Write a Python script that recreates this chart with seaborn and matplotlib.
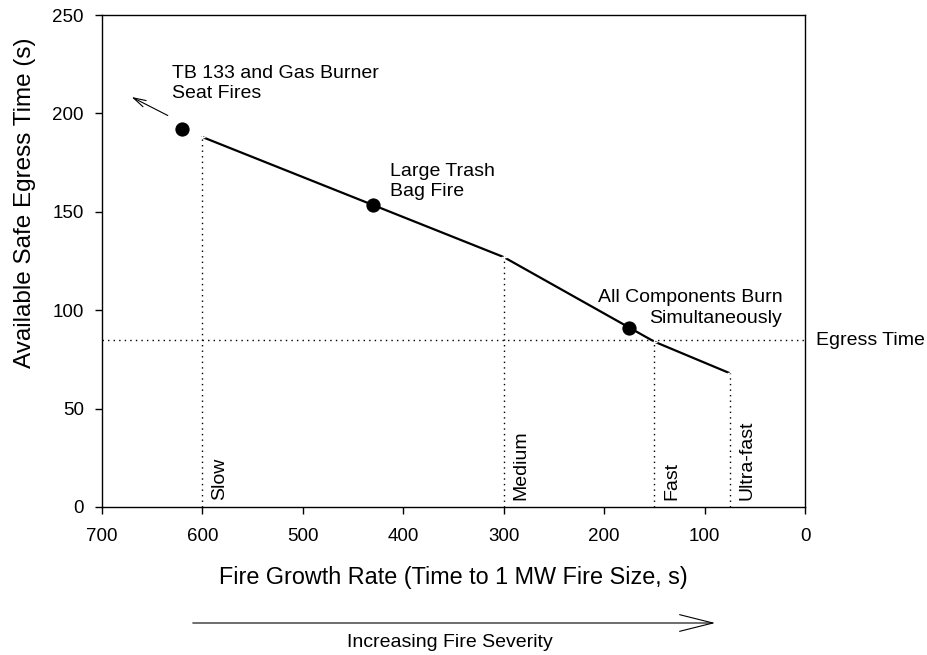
import matplotlib
matplotlib.use("Agg")
import matplotlib.pyplot as plt
import pandas as pd
import seaborn as sns

# Data
curve_x = [600, 300, 150, 75]          # fire growth time to 1 MW (s)
curve_y = [188, 127, 84, 68]           # available safe egress time (s)
curve_names = ["Slow", "Medium", "Fast", "Ultra-fast"]

fire_x = [620, 430, 175]
fire_y = [192, 153.4, 91.2]
fire_names = ["TB 133 and Gas Burner\nSeat Fires", "Large Trash\nBag Fire",
              "All Components Burn\nSimultaneously"]

egress_time = 85

df_curve = pd.DataFrame({"growth": curve_x, "aset": curve_y, "name": curve_names})
df_fire = pd.DataFrame({"growth": fire_x, "aset": fire_y, "name": fire_names})

sns.set_style("ticks")
plt.rcParams['font.family'] = ['Liberation Sans', 'DejaVu Sans']
plt.rcParams['text.color'] = 'black'
plt.rcParams['axes.labelcolor'] = 'black'

fig = plt.figure(figsize=(9.28, 6.55), dpi=100)
ax = fig.add_axes([0.1099, 0.226, 0.7576, 0.751])

sns.lineplot(data=df_curve, x="growth", y="aset", ax=ax, color="black", lw=1.6,
             marker="+", markersize=4, markeredgewidth=1, sort=False)
sns.scatterplot(data=df_fire, x="growth", y="aset", ax=ax, color="black", s=90,
                edgecolor="black", zorder=5)

ax.set_xlim(700, 0)
ax.set_ylim(0, 250)
ax.set_xticks(range(700, -1, -100))
ax.set_yticks(range(0, 251, 50))

# dotted drop lines and rate names
for gx, gy, name in zip(curve_x, curve_y, curve_names):
    ax.plot([gx, gx], [0, gy], color="black", lw=1, ls=(0, (1, 3)))
    ax.text(gx - 9, 3.5, name, rotation=90, ha="left", va="bottom", fontsize=14)

# egress time line
ax.axhline(egress_time, color="black", lw=1, ls=(0, (1, 3)))
ax.text(-11, 82.3, "Egress Time", ha="left", va="baseline", fontsize=14,
        clip_on=False)

# fire labels (y = baseline of the last line)
ax.text(630.6, 207.7, fire_names[0], ha="left", va="baseline", fontsize=14,
        linespacing=1.28)
ax.text(413, 157.8, fire_names[1], ha="left", va="baseline", fontsize=14,
        linespacing=1.28)
ax.text(22.8, 93.6, fire_names[2], ha="right", va="baseline", fontsize=14,
        multialignment="right", linespacing=1.28)

ax.annotate("", xy=(673, 209), xytext=(632, 198.3),
            arrowprops=dict(arrowstyle="->,head_length=0.9,head_width=0.25",
                            color="black", lw=0.8))

ax.set_xlabel("Fire Growth Rate (Time to 1 MW Fire Size, s)", fontsize=16.8, labelpad=15)
ax.set_ylabel("Available Safe Egress Time (s)", fontsize=17.5)
ax.yaxis.set_label_coords(-0.094, 0.618)
ax.tick_params(labelsize=13.5, length=5, width=1, colors="black", direction="out")
ax.tick_params(axis="x", pad=10)
ax.tick_params(axis="y", pad=8)
for s in ax.spines.values():
    s.set_visible(True)
    s.set_color("black")
    s.set_linewidth(1)

# severity arrow under the axis
ax.annotate("", xy=(718 / 928, 1 - 623 / 655), xytext=(190 / 928, 1 - 623 / 655),
            xycoords="figure fraction", textcoords="figure fraction",
            arrowprops=dict(arrowstyle="->,head_length=2.4,head_width=0.6",
                            color="black", lw=0.8))
fig.text(449.5 / 928, 1 - 642.5 / 655, "Increasing Fire Severity", ha="center",
         va="center", fontsize=14)

fig.savefig("out.png", dpi=100)
